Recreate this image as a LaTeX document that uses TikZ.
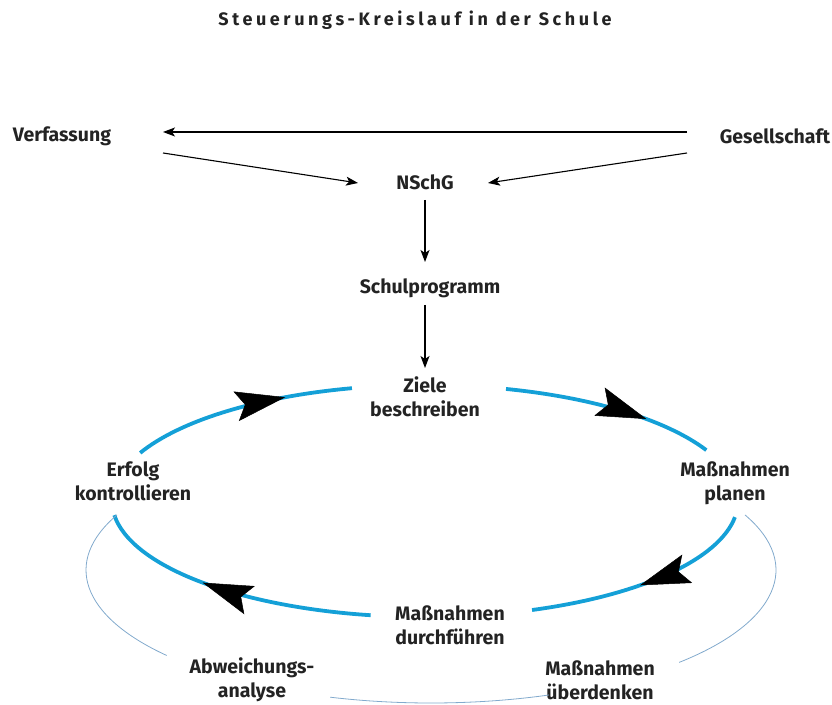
\documentclass[tikz,border=0pt]{standalone}
\usepackage{fontspec}
\setmainfont{Fira Sans}
\usetikzlibrary{arrows.meta,decorations.markings}
\definecolor{cycleblue}{RGB}{20,160,215}
\definecolor{thinblue}{RGB}{130,170,205}
\definecolor{textgray}{RGB}{35,35,35}
\begin{document}
\begin{tikzpicture}[x=1pt, y=1pt,
	term/.style={font=\fontsize{19.5}{24}\selectfont\bfseries, text=textgray, align=center, inner sep=0pt},
	arr/.style={-{Stealth[length=12pt, width=9pt, inset=3pt]}, line width=1.1pt},
	cyclearc/.style={line width=3.8pt, cycleblue},
	outerarc/.style={line width=0.8pt, thinblue},
	headat/.style={postaction=decorate, decoration={markings,
		mark=at position #1 with {\arrow[black]{Stealth[length=50pt, width=30pt, inset=9pt, line width=0.5pt]}}}}]
	\useasboundingbox (0,0) rectangle (832,704);
	% Title.
	\node[font=\fontsize{18}{20}\selectfont\bfseries\addfontfeature{LetterSpace=20}, text=textgray] (title) at (415,684) {Steuerungs-Kreislauf in der Schule};
	% Sources.
	\node[term] (verf) at (62,568) {Verfassung};
	\node[term] (ges) at (775,568) {Gesellschaft};
	\node[term] (nschg) at (425,522) {NSchG};
	\node[term] (schul) at (430,416) {Schulprogramm};
	\draw[arr] ([shift={(-88,4)}]ges.center) -- ([shift={(101,4)}]verf.center);
	\draw[arr] ([shift={(101,-17)}]verf.center) -- ([shift={(-67,-1)}]nschg.center);
	\draw[arr] ([shift={(-88,-17)}]ges.center) -- ([shift={(63,-1)}]nschg.center);
	\draw[arr] ([yshift=-18pt]nschg.center) -- ([shift={(-5,26)}]schul.center);
	% Cycle.
	\node[term] (ziele) at (425,307) {Ziele\\beschreiben};
	\node[term] (planen) at (735,221) {Maßnahmen\\planen};
	\node[term] (durch) at (450,79) {Maßnahmen\\durchführen};
	\node[term] (erfolg) at (133,223) {Erfolg\\kontrollieren};
	\node[term] (abw) at (252,24) {Abweichungs-\\analyse};
	\node[term] (ueber) at (600,24) {Maßnahmen\\überdenken};
	\draw[arr] ([shift={(-5,-17)}]schul.center) -- ([yshift=29pt]ziele.center);
	\coordinate (mid) at (425,203);
	\draw[cyclearc, headat=0.68] ([shift={(75:313 and 116)}]mid) arc[start angle=75, end angle=26, x radius=313, y radius=116];
	\draw[cyclearc, headat=0.52] ([shift={(-8:313 and 116)}]mid) arc[start angle=-8, end angle=-70, x radius=313, y radius=116];
	\draw[cyclearc, headat=0.6] ([shift={(260:313 and 116)}]mid) arc[start angle=260, end angle=187, x radius=313, y radius=116];
	\draw[cyclearc, headat=0.7] ([shift={(155.5:313 and 116)}]mid) arc[start angle=155.5, end angle=103.5, x radius=313, y radius=116];
	% Outer loop.
	\coordinate (outer) at (431,134);
	\draw[outerarc] ([shift={(155.5:345 and 133)}]outer) arc[start angle=155.5, end angle=220, x radius=345, y radius=133];
	\draw[outerarc] ([shift={(253:345 and 133)}]outer) arc[start angle=253, end angle=290, x radius=345, y radius=133];
	\draw[outerarc] ([shift={(-44:345 and 133)}]outer) arc[start angle=-44, end angle=24.5, x radius=345, y radius=133];
\end{tikzpicture}
\end{document}
